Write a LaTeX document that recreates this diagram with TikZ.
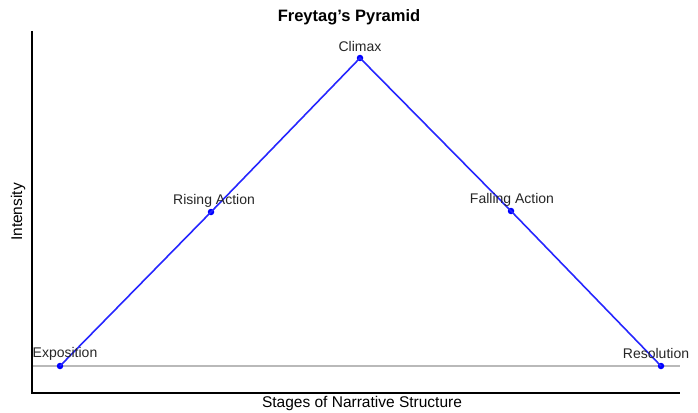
\documentclass[tikz,border=0pt]{standalone}
\usepackage{fontspec}
\setmainfont{Liberation Sans}
\begin{document}
\begin{tikzpicture}[x=1pt,y=-1pt,
  lbl/.style={font=\fontsize{14}{16}\selectfont, inner sep=0pt, text=black!85},
  pt/.style={circle, fill=blue, inner sep=0pt, minimum size=6.5pt},
  axis/.style={draw=black, line width=1.6pt},
  path/.style={draw=blue!85!white, line width=1.6pt}]
\useasboundingbox (0,0) rectangle (698,412);
\node[font=\bfseries\fontsize{16.5}{19}\selectfont, inner sep=0pt] (title) at (349,17) {Freytag’s Pyramid};
\coordinate (o) at (32,393);
\coordinate (ytop) at (32,31);
\coordinate (xend) at (680,393);
\coordinate (gl) at (32,366);
\coordinate (gr) at (680,366);
\draw[gray!55, line width=1.1pt] (gl) -- (gr);
\draw[axis] (ytop) -- (o) -- (xend);
\node[pt] (e) at (60,366) {};
\node[pt] (r) at (211,212) {};
\node[pt] (c) at (360,58) {};
\node[pt] (f) at (511,211) {};
\node[pt] (s) at (661,366) {};
\draw[path] (e.center) -- (r.center) -- (c.center) -- (f.center) -- (s.center);
\node[lbl] (le) at (65,354) {Exposition};
\node[lbl] (lr) at (214,201) {Rising Action};
\node[lbl] (lc) at (360,46) {Climax};
\node[lbl] (lf) at (512,200) {Falling Action};
\node[lbl] (ls) at (656,353) {Resolution};
\node[font=\fontsize{15.5}{18}\selectfont, inner sep=0pt, rotate=90] (yl) at (18,212) {Intensity};
\node[font=\fontsize{15.5}{18}\selectfont, inner sep=0pt] (xl) at (362,403) {Stages of Narrative Structure};
\end{tikzpicture}
\end{document}
